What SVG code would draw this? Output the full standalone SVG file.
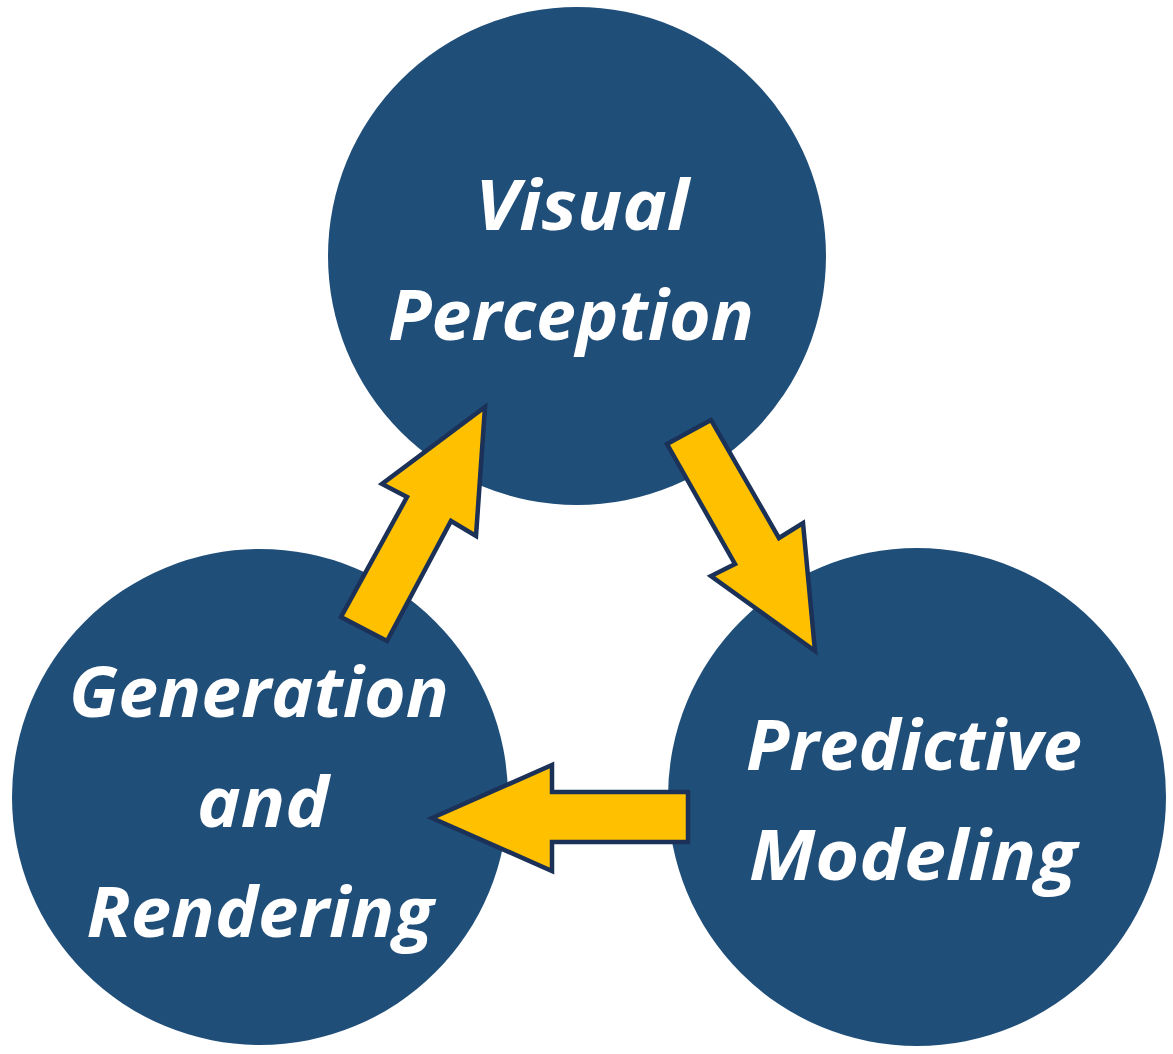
<svg xmlns="http://www.w3.org/2000/svg" width="1173" height="1054" viewBox="0 0 1173 1054">
<style>
.node circle{fill:#1F4E79}
.lbl{font-family:"Open Sans",Lato,"DejaVu Sans",sans-serif;font-weight:bold;font-style:italic;font-size:70px;fill:#fff;text-anchor:middle;font-variant-ligatures:none}
.arrow{fill:#FFC000;stroke:#1B3158;stroke-width:4.5;stroke-linejoin:miter}
</style>
<rect width="1173" height="1054" fill="#fff"/>
<g id="node-visual-perception" class="node">
<circle cx="577" cy="256" r="249"/>
<text class="lbl" x="582" y="230" textLength="214" lengthAdjust="spacingAndGlyphs">Visual</text>
<text class="lbl" x="571" y="340" textLength="366" lengthAdjust="spacingAndGlyphs">Perception</text>
</g>
<g id="node-generation-rendering" class="node">
<circle cx="260" cy="797" r="248"/>
<text class="lbl" x="259" y="717" textLength="380" lengthAdjust="spacingAndGlyphs">Generation</text>
<text class="lbl" x="263" y="827" textLength="132" lengthAdjust="spacingAndGlyphs">and</text>
<text class="lbl" x="260" y="937" textLength="347" lengthAdjust="spacingAndGlyphs">Rendering</text>
</g>
<g id="node-predictive-modeling" class="node">
<circle cx="917" cy="797" r="249"/>
<text class="lbl" x="914" y="770" textLength="336" lengthAdjust="spacingAndGlyphs">Predictive</text>
<text class="lbl" x="913" y="880" textLength="328" lengthAdjust="spacingAndGlyphs">Modeling</text>
</g>
<g id="connectors">
<polygon class="arrow" points="485,407 476,536 451,521 387,641 341,617 407,497 382,484"/>
<polygon class="arrow" points="667,444 711,420 779,538 803,523 815,651 711,576 735,564"/>
<polygon class="arrow" points="432,818 552,765 552,792 688,792 688,842 552,842 552,871"/>
</g>
</svg>
